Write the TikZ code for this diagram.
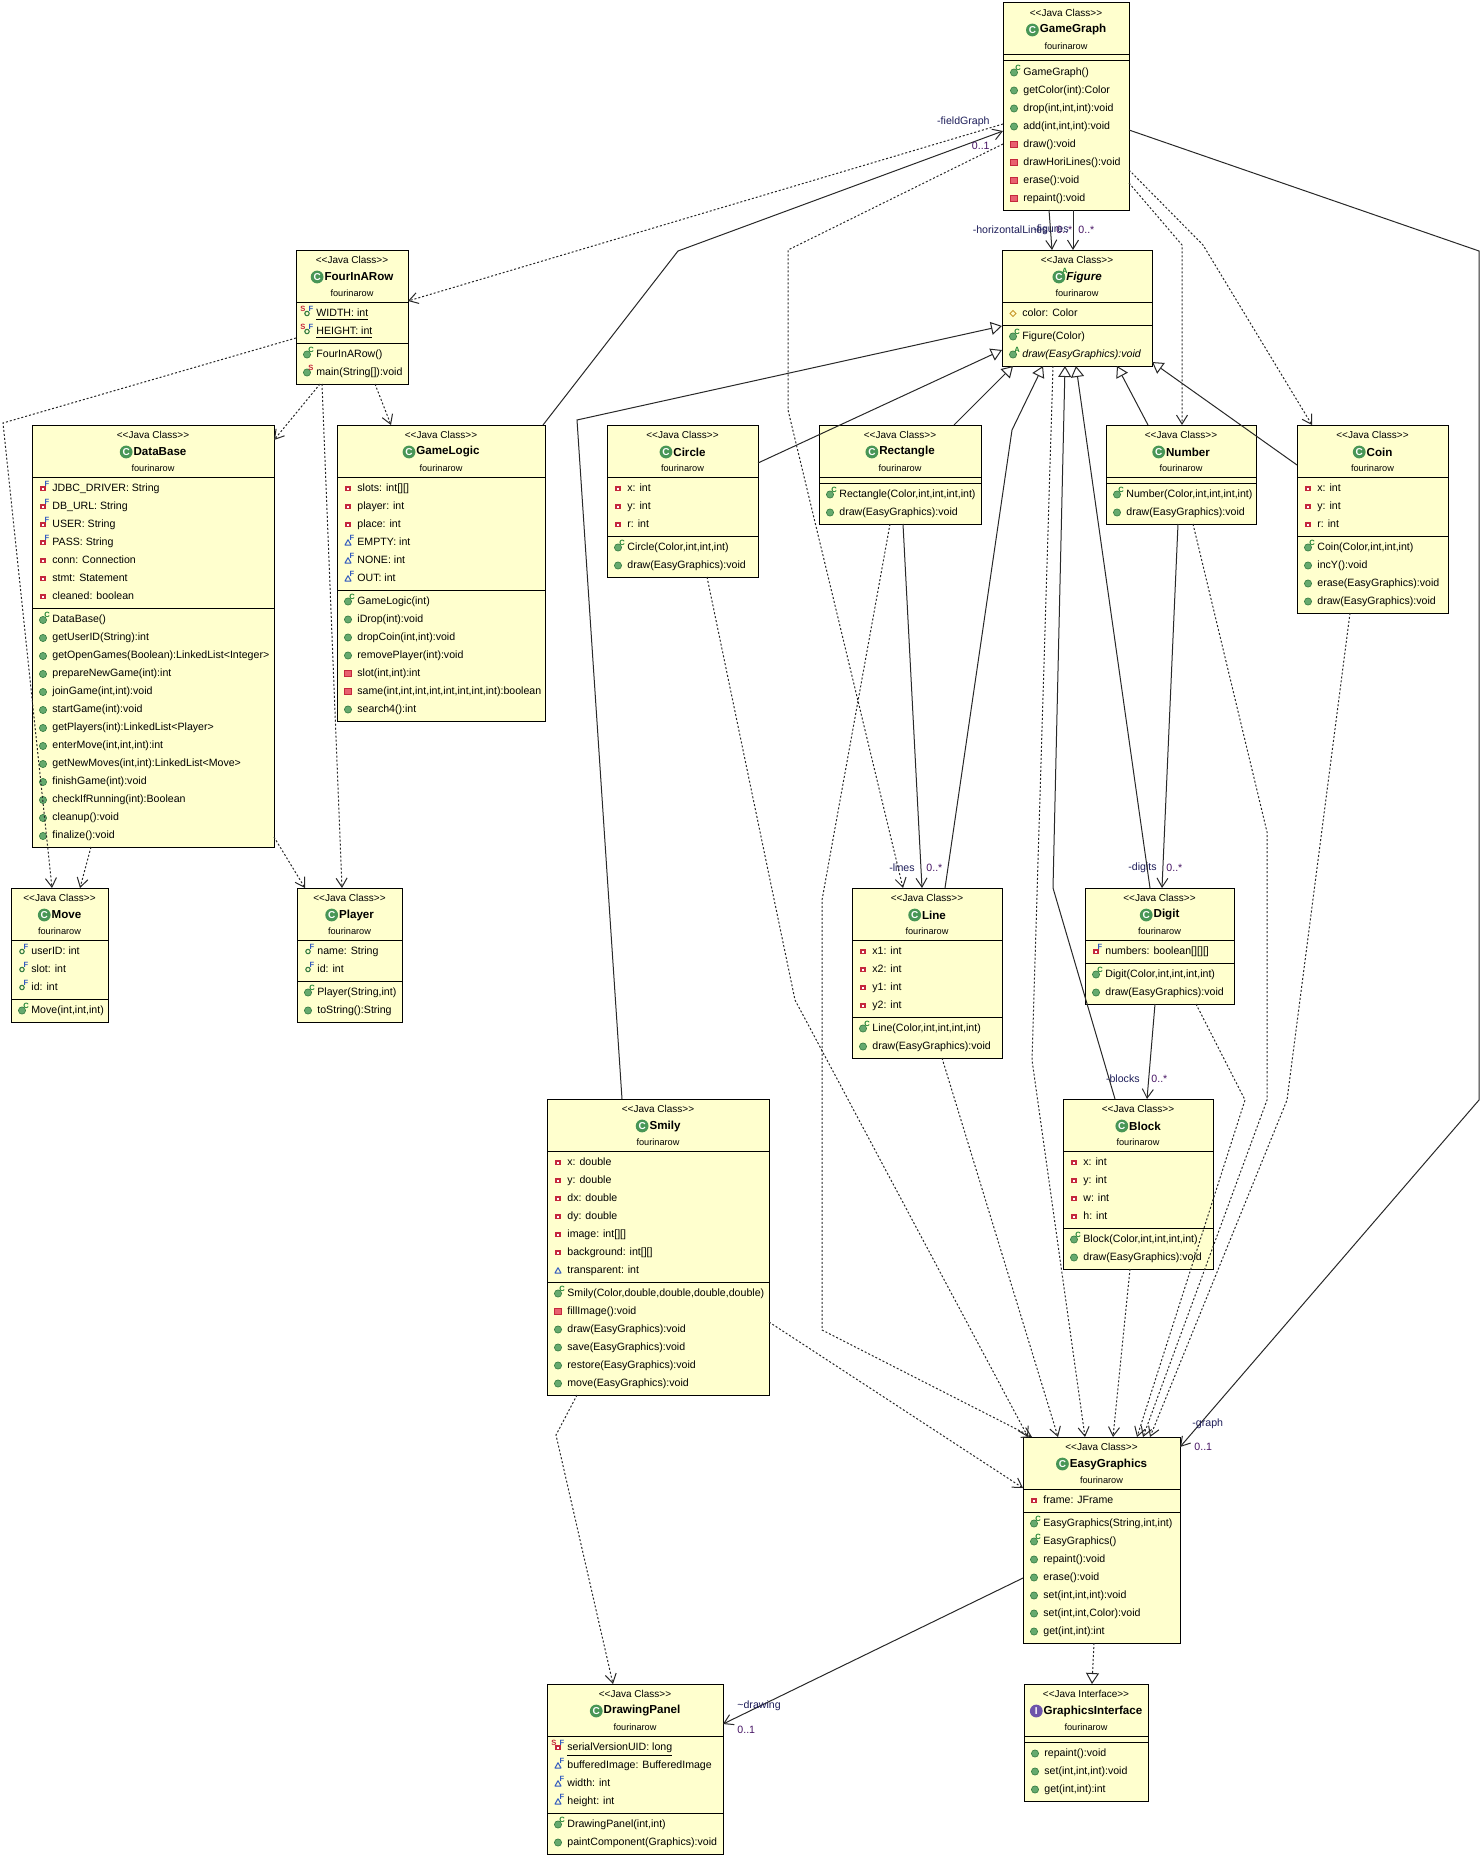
\documentclass[tikz,border=0pt]{standalone}
\usepackage{fontspec}
\setmainfont{Liberation Sans}
\usepackage{tikz}
\usetikzlibrary{calc}
\usetikzlibrary{arrows.meta}
\usepackage{color}
\definecolor{classfill}{RGB}{255, 255, 206}
\definecolor{ballgreen}{RGB}{102, 170, 110}
\definecolor{balledge}{RGB}{52, 122, 64}
\definecolor{ctorgreen}{RGB}{30, 130, 50}
\definecolor{classgreen}{RGB}{72, 150, 86}
\definecolor{privred}{RGB}{196, 40, 60}
\definecolor{privfill}{RGB}{232, 96, 110}
\definecolor{pkgblue}{RGB}{50, 90, 190}
\definecolor{protgold}{RGB}{200, 150, 40}
\definecolor{ifacepurple}{RGB}{110, 84, 170}
\definecolor{labelnavy}{RGB}{30, 30, 90}
\definecolor{multpurple}{RGB}{70, 20, 100}
\definecolor{connline}{RGB}{40, 40, 40}

\tikzset{
  classbox/.style={draw=black, fill=classfill, line width=0.5pt, anchor=north west, inner sep=0pt, outer sep=0pt},
  boxline/.style={draw=black, line width=0.5pt},
  stereo/.style={font=\fontsize{5}{6}\selectfont, inner sep=0pt},
  cname/.style={font=\fontsize{5.8}{7}\selectfont\bfseries, inner sep=0pt},
  pkgname/.style={font=\fontsize{4.6}{5}\selectfont, inner sep=0pt},
  member/.style={font=\fontsize{5.3}{6}\selectfont, anchor=west, inner sep=0pt, text height=3.9pt, text depth=1.1pt},
  suptext/.style={font=\fontsize{3.8}{4}\selectfont\bfseries, inner sep=0pt},
  classletter/.style={font=\fontsize{5}{5}\selectfont\bfseries, text=white, inner sep=0pt},
  role/.style={font=\fontsize{5.3}{6}\selectfont, text=labelnavy, inner sep=0pt},
  mult/.style={font=\fontsize{5.3}{6}\selectfont, text=multpurple, inner sep=0pt},
  dep/.style={draw=connline, line width=0.5pt, dash pattern=on 1pt off 1pt, -{Straight Barb[length=4.5pt, width=5.5pt]}},
  assoc/.style={draw=connline, line width=0.5pt, -{Straight Barb[length=4.5pt, width=5.5pt]}},
  gen/.style={draw=connline, line width=0.5pt, -{Triangle[open, fill=white, length=5.5pt, width=6.5pt]}},
  real/.style={gen, dash pattern=on 1pt off 1pt}
}

% member icons, #1 is the centre
\newcommand\icpub[1]{\coordinate (icn) at (#1);
  \filldraw[fill=ballgreen, draw=balledge, line width=0.3pt] (icn) circle (1.8pt);}
\newcommand\icctor[1]{\icpub{#1}\node[suptext, text=ctorgreen] (icl) at ([shift={(4,-5)}]icn) {C};}
\newcommand\icstat[1]{\icpub{#1}\node[suptext, text=privred] (icl) at ([shift={(4,-5)}]icn) {S};}
\newcommand\icabs[1]{\icpub{#1}\node[suptext, text=ctorgreen] (icl) at ([shift={(4,-5)}]icn) {A};}
\newcommand\icpriv[1]{\coordinate (icn) at (#1);
  \fill[privred] ([shift={(-2.6,-2.6)}]icn) rectangle ([shift={(2.6,2.6)}]icn);
  \fill[white] ([shift={(-1,-1)}]icn) rectangle ([shift={(1,1)}]icn);}
\newcommand\icprivF[1]{\icpriv{#1}\node[suptext, text=pkgblue] (icl) at ([shift={(4,-5)}]icn) {F};}
\newcommand\icprivm[1]{\coordinate (icn) at (#1);
  \filldraw[fill=privfill, draw=privred, line width=0.4pt] ([shift={(-3.3,-3.3)}]icn) rectangle ([shift={(3.3,3.3)}]icn);}
\newcommand\icpubF[1]{\coordinate (icn) at (#1);
  \draw[balledge, line width=0.55pt] (icn) circle (1.1pt);
  \node[suptext, text=pkgblue] (icl) at ([shift={(4,-5)}]icn) {F};}
\newcommand\icSoF[1]{\icpubF{#1}\node[suptext, text=privred] (icl) at ([shift={(-4,-5)}]icn) {S};}
\newcommand\icSpF[1]{\icprivF{#1}\node[suptext, text=privred] (icl) at ([shift={(-4,-5)}]icn) {S};}
\newcommand\icpkg[1]{\coordinate (icn) at (#1);
  \draw[pkgblue, line width=0.5pt, line join=round] ([shift={(-3,2.5)}]icn) -- ([shift={(3,2.5)}]icn) -- ([shift={(0,-2.8)}]icn) -- cycle;}
\newcommand\icpkgF[1]{\icpkg{#1}\node[suptext, text=pkgblue] (icl) at ([shift={(4,-5)}]icn) {F};}
\newcommand\icprot[1]{\coordinate (icn) at (#1);
  \draw[protgold, line width=0.5pt] ([shift={(-3,0)}]icn) -- ([shift={(0,-3)}]icn) -- ([shift={(3,0)}]icn) -- ([shift={(0,3)}]icn) -- cycle;}
\newcommand\icclass[1]{\coordinate (icn) at (#1);
  \fill[classgreen] (icn) circle (3.2pt);
  \node[classletter] (icl) at (icn) {C};}
\newcommand\icabsclass[1]{\icclass{#1}\node[suptext, text=ctorgreen] (icl) at ([shift={(6,-6)}]icn) {A};}
\newcommand\iciface[1]{\coordinate (icn) at (#1);
  \fill[ifacepurple] (icn) circle (3.2pt);
  \node[classletter] (icl) at (icn) {I};}

% class box: name, x, y, width, height (pixels)
\newcommand\umlclass[5]{\node[classbox, minimum width=#4*0.5pt, minimum height=#5*0.5pt] (#1) at (#2,#3) {};}
\newcommand\umlhead[4]{%
  \node[stereo] (#1-stereo) at ($(#1.north)+(0,10)$) {#4};
  \node[cname] (#1-name) at ($(#1.north)+(7,27)$) {#2};
  #3{$(#1-name.west)+(-7,0)$}
  \node[pkgname] (#1-pkg) at ($(#1.north)+(0,43)$) {fourinarow};}
\newcommand\umlline[2]{\draw[boxline] ($(#1.north west)+(0,#2)$) -- ($(#1.north east)+(0,#2)$);}
\newcommand\umlmembers[4]{%
  \foreach \ic/\tx [count=\row from 0] in {#4}{
    \pgfmathsetmacro\yy{#2+#3*\row}
    \pgfmathtruncatemacro\yi{#2+#3*\row}
    \ic{$(#1.north west)+(11,\yy)$}
    \node[member] (#1-row\yi) at ($(#1.north west)+(20,\yy)$) {\tx};
  }}

\begin{document}
\begin{tikzpicture}[x=0.5pt, y=-0.5pt]
\fill[white] (0,0) rectangle (1480,1857);
\useasboundingbox (0,0) rectangle (1480,1857);

% GameGraph
\umlclass{gamegraph}{1003}{3}{126}{207}
\umlhead{gamegraph}{GameGraph}{\icclass}{<{}<Java Class>{}>}
\umlline{gamegraph}{52}
\umlline{gamegraph}{58}
\umlmembers{gamegraph}{69.5}{18}{\icctor/{GameGraph()}, \icpub/{getColor(int):Color}, \icpub/{drop(int,int,int):void}, \icpub/{add(int,int,int):void}, \icprivm/{draw():void}, \icprivm/{drawHoriLines():void}, \icprivm/{erase():void}, \icprivm/{repaint():void}}

% FourInARow
\umlclass{fourinarow}{296}{250}{112}{134}
\umlhead{fourinarow}{FourInARow}{\icclass}{<{}<Java Class>{}>}
\umlline{fourinarow}{52}
\umlline{fourinarow}{93}
\umlmembers{fourinarow}{63.5}{18}{\icSoF/{\underline{WIDTH: int}}, \icSoF/{\underline{HEIGHT: int}}}
\umlmembers{fourinarow}{104.5}{18}{\icctor/{FourInARow()}, \icstat/{main(String[]):void}}

% Figure
\umlclass{figure}{1002}{250}{150}{116}
\umlhead{figure}{\itshape Figure}{\icabsclass}{<{}<Java Class>{}>}
\umlline{figure}{52}
\umlline{figure}{75}
\umlmembers{figure}{63.5}{18}{\icprot/{color: Color}}
\umlmembers{figure}{86.5}{18}{\icctor/{Figure(Color)}, \icabs/{\itshape draw(EasyGraphics):void}}

% DataBase
\umlclass{database}{32}{425}{242}{422}
\umlhead{database}{DataBase}{\icclass}{<{}<Java Class>{}>}
\umlline{database}{52}
\umlline{database}{183}
\umlmembers{database}{63.5}{18}{\icprivF/{JDBC\_DRIVER: String}, \icprivF/{DB\_URL: String}, \icprivF/{USER: String}, \icprivF/{PASS: String}, \icpriv/{conn: Connection}, \icpriv/{stmt: Statement}, \icpriv/{cleaned: boolean}}
\umlmembers{database}{195}{18}{\icctor/{DataBase()}, \icpub/{getUserID(String):int}, \icpub/{getOpenGames(Boolean):LinkedList<Integer>}, \icpub/{prepareNewGame(int):int}, \icpub/{joinGame(int,int):void}, \icpub/{startGame(int):void}, \icpub/{getPlayers(int):LinkedList<Player>}, \icpub/{enterMove(int,int,int):int}, \icpub/{getNewMoves(int,int):LinkedList<Move>}, \icpub/{finishGame(int):void}, \icpub/{checkIfRunning(int):Boolean}, \icpub/{cleanup():void}, \icpub/{finalize():void}}

% GameLogic
\umlclass{gamelogic}{337}{425}{208}{296}
\umlhead{gamelogic}{GameLogic}{\icclass}{<{}<Java Class>{}>}
\umlline{gamelogic}{52}
\umlline{gamelogic}{165}
\umlmembers{gamelogic}{63.5}{18}{\icpriv/{slots: int[][]}, \icpriv/{player: int}, \icpriv/{place: int}, \icpkgF/{EMPTY: int}, \icpkgF/{NONE: int}, \icpkgF/{OUT: int}}
\umlmembers{gamelogic}{176.5}{18}{\icctor/{GameLogic(int)}, \icpub/{iDrop(int):void}, \icpub/{dropCoin(int,int):void}, \icpub/{removePlayer(int):void}, \icprivm/{slot(int,int):int}, \icprivm/{same(int,int,int,int,int,int,int,int):boolean}, \icpub/{search4():int}}

% Circle
\umlclass{circle}{607}{425}{151}{152}
\umlhead{circle}{Circle}{\icclass}{<{}<Java Class>{}>}
\umlline{circle}{52}
\umlline{circle}{111}
\umlmembers{circle}{63.5}{18}{\icpriv/{x: int}, \icpriv/{y: int}, \icpriv/{r: int}}
\umlmembers{circle}{122.5}{18}{\icctor/{Circle(Color,int,int,int)}, \icpub/{draw(EasyGraphics):void}}

% Rectangle
\umlclass{rectangle}{819}{425}{162}{99}
\umlhead{rectangle}{Rectangle}{\icclass}{<{}<Java Class>{}>}
\umlline{rectangle}{52}
\umlline{rectangle}{58}
\umlmembers{rectangle}{69.5}{18}{\icctor/{Rectangle(Color,int,int,int,int)}, \icpub/{draw(EasyGraphics):void}}

% Number
\umlclass{number}{1106}{425}{150}{99}
\umlhead{number}{Number}{\icclass}{<{}<Java Class>{}>}
\umlline{number}{52}
\umlline{number}{58}
\umlmembers{number}{69.5}{18}{\icctor/{Number(Color,int,int,int,int)}, \icpub/{draw(EasyGraphics):void}}

% Coin
\umlclass{coin}{1297}{425}{151}{188}
\umlhead{coin}{Coin}{\icclass}{<{}<Java Class>{}>}
\umlline{coin}{52}
\umlline{coin}{111}
\umlmembers{coin}{63.5}{18}{\icpriv/{x: int}, \icpriv/{y: int}, \icpriv/{r: int}}
\umlmembers{coin}{122.5}{18}{\icctor/{Coin(Color,int,int,int)}, \icpub/{incY():void}, \icpub/{erase(EasyGraphics):void}, \icpub/{draw(EasyGraphics):void}}

% Move
\umlclass{move}{11}{888}{97}{134}
\umlhead{move}{Move}{\icclass}{<{}<Java Class>{}>}
\umlline{move}{52}
\umlline{move}{111}
\umlmembers{move}{63.5}{18}{\icpubF/{userID: int}, \icpubF/{slot: int}, \icpubF/{id: int}}
\umlmembers{move}{122.5}{18}{\icctor/{Move(int,int,int)}}

% Player
\umlclass{player}{297}{888}{105}{134}
\umlhead{player}{Player}{\icclass}{<{}<Java Class>{}>}
\umlline{player}{52}
\umlline{player}{93}
\umlmembers{player}{63.5}{18}{\icpubF/{name: String}, \icpubF/{id: int}}
\umlmembers{player}{104.5}{18}{\icctor/{Player(String,int)}, \icpub/{toString():String}}

% Line
\umlclass{line}{852}{888}{150}{170}
\umlhead{line}{Line}{\icclass}{<{}<Java Class>{}>}
\umlline{line}{52}
\umlline{line}{129}
\umlmembers{line}{63.5}{18}{\icpriv/{x1: int}, \icpriv/{x2: int}, \icpriv/{y1: int}, \icpriv/{y2: int}}
\umlmembers{line}{140.5}{18}{\icctor/{Line(Color,int,int,int,int)}, \icpub/{draw(EasyGraphics):void}}

% Digit
\umlclass{digit}{1085}{888}{149}{116}
\umlhead{digit}{Digit}{\icclass}{<{}<Java Class>{}>}
\umlline{digit}{52}
\umlline{digit}{75}
\umlmembers{digit}{63.5}{18}{\icprivF/{numbers: boolean[][][]}}
\umlmembers{digit}{86.5}{18}{\icctor/{Digit(Color,int,int,int,int)}, \icpub/{draw(EasyGraphics):void}}

% Block
\umlclass{block}{1063}{1099}{150}{170}
\umlhead{block}{Block}{\icclass}{<{}<Java Class>{}>}
\umlline{block}{52}
\umlline{block}{129}
\umlmembers{block}{63.5}{18}{\icpriv/{x: int}, \icpriv/{y: int}, \icpriv/{w: int}, \icpriv/{h: int}}
\umlmembers{block}{140.5}{18}{\icctor/{Block(Color,int,int,int,int)}, \icpub/{draw(EasyGraphics):void}}

% Smily
\umlclass{smily}{547}{1099}{222}{296}
\umlhead{smily}{Smily}{\icclass}{<{}<Java Class>{}>}
\umlline{smily}{52}
\umlline{smily}{183}
\umlmembers{smily}{63.5}{18}{\icpriv/{x: double}, \icpriv/{y: double}, \icpriv/{dx: double}, \icpriv/{dy: double}, \icpriv/{image: int[][]}, \icpriv/{background: int[][]}, \icpkg/{transparent: int}}
\umlmembers{smily}{194.5}{18}{\icctor/{Smily(Color,double,double,double,double)}, \icprivm/{fillImage():void}, \icpub/{draw(EasyGraphics):void}, \icpub/{save(EasyGraphics):void}, \icpub/{restore(EasyGraphics):void}, \icpub/{move(EasyGraphics):void}}

% EasyGraphics
\umlclass{easygraphics}{1023}{1437}{157}{206}
\umlhead{easygraphics}{EasyGraphics}{\icclass}{<{}<Java Class>{}>}
\umlline{easygraphics}{52}
\umlline{easygraphics}{75}
\umlmembers{easygraphics}{63.5}{18}{\icpriv/{frame: JFrame}}
\umlmembers{easygraphics}{86.5}{18}{\icctor/{EasyGraphics(String,int,int)}, \icctor/{EasyGraphics()}, \icpub/{repaint():void}, \icpub/{erase():void}, \icpub/{set(int,int,int):void}, \icpub/{set(int,int,Color):void}, \icpub/{get(int,int):int}}

% DrawingPanel
\umlclass{drawingpanel}{547}{1684}{176}{170}
\umlhead{drawingpanel}{DrawingPanel}{\icclass}{<{}<Java Class>{}>}
\umlline{drawingpanel}{52}
\umlline{drawingpanel}{129}
\umlmembers{drawingpanel}{63.5}{18}{\icSpF/{\underline{serialVersionUID: long}}, \icpkgF/{bufferedImage: BufferedImage}, \icpkgF/{width: int}, \icpkgF/{height: int}}
\umlmembers{drawingpanel}{140.5}{18}{\icctor/{DrawingPanel(int,int)}, \icpub/{paintComponent(Graphics):void}}

% GraphicsInterface
\umlclass{graphicsif}{1024}{1684}{124}{117}
\umlhead{graphicsif}{GraphicsInterface}{\iciface}{<{}<Java Interface>{}>}
\umlline{graphicsif}{52}
\umlline{graphicsif}{58}
\umlmembers{graphicsif}{69.5}{18}{\icpub/{repaint():void}, \icpub/{set(int,int,int):void}, \icpub/{get(int,int):int}}

% associations
\draw[assoc] ($(gamelogic.north east)+(-2,0)$) -- (678,251) -- ($(gamegraph.north west)+(0,128)$);
\node[role, anchor=east] (lbl-fieldgraph) at ($(gamegraph.north west)+(-13,119)$) {-fieldGraph};
\node[mult, anchor=east] (lbl-fieldgraph-m) at ($(gamegraph.north west)+(-13,143)$) {0..1};
\draw[assoc] ($(gamegraph.south west)+(46,0)$) -- ($(figure.north west)+(50,0)$);
\node[role, anchor=east] (lbl-hlines) at ($(figure.north west)+(46,-20)$) {-horizontalLines};
\node[mult, anchor=west] (lbl-hlines-m) at ($(figure.north west)+(54,-20)$) {0..*};
\draw[assoc] ($(gamegraph.south west)+(70,0)$) -- ($(figure.north west)+(71,0)$);
\node[role, anchor=east] (lbl-figures) at ($(figure.north west)+(67,-20)$) {-figures};
\node[mult, anchor=west] (lbl-figures-m) at ($(figure.north west)+(76,-20)$) {0..*};
\draw[assoc] ($(gamegraph.north east)+(0,127)$) -- (1479,251) -- (1479,1100) -- ($(easygraphics.north east)+(0,10)$);
\node[role, anchor=west] (lbl-graph) at ($(easygraphics.north east)+(12,-13)$) {-graph};
\node[mult, anchor=west] (lbl-graph-m) at ($(easygraphics.north east)+(14,10)$) {0..1};
\draw[assoc] ($(rectangle.south west)+(84,0)$) -- ($(line.north west)+(70,0)$);
\node[role, anchor=east] (lbl-lines) at ($(line.north west)+(63,-20)$) {-lines};
\node[mult, anchor=west] (lbl-lines-m) at ($(line.north west)+(74,-20)$) {0..*};
\draw[assoc] ($(number.south west)+(72,0)$) -- ($(digit.north west)+(77,0)$);
\node[role, anchor=east] (lbl-digits) at ($(digit.north west)+(72,-20)$) {-digits};
\node[mult, anchor=west] (lbl-digits-m) at ($(digit.north west)+(81,-20)$) {0..*};
\draw[assoc] ($(digit.south west)+(70,0)$) -- ($(block.north west)+(84,0)$);
\node[role, anchor=east] (lbl-blocks) at ($(block.north west)+(77,-20)$) {-blocks};
\node[mult, anchor=west] (lbl-blocks-m) at ($(block.north west)+(88,-20)$) {0..*};
\draw[assoc] ($(easygraphics.north west)+(0,141)$) -- ($(drawingpanel.north east)+(0,40)$);
\node[role, anchor=west] (lbl-drawing) at ($(drawingpanel.north east)+(14,22)$) {\textasciitilde drawing};
\node[mult, anchor=west] (lbl-drawing-m) at ($(drawingpanel.north east)+(14,46)$) {0..1};

% generalizations
\draw[gen] ($(circle.north east)+(0,38)$) -- ($(figure.north west)+(0,100)$);
\draw[gen] ($(smily.north west)+(75,0)$) -- (577,420) -- ($(figure.north west)+(0,76)$);
\draw[gen] ($(rectangle.north east)+(-27,0)$) -- ($(figure.south west)+(11,0)$);
\draw[gen] ($(line.north west)+(93,0)$) -- (1012,430) -- ($(figure.south west)+(41,0)$);
\draw[gen] ($(block.north west)+(52,0)$) -- (1053,888) -- ($(figure.south west)+(63,0)$);
\draw[gen] ($(digit.north west)+(65,0)$) -- ($(figure.south west)+(74,0)$);
\draw[gen] ($(number.north west)+(42,0)$) -- ($(figure.south west)+(115,0)$);
\draw[gen] ($(coin.north west)+(0,40)$) -- ($(figure.south east)+(0,-4)$);
\draw[real] ($(easygraphics.south west)+(71,0)$) -- ($(graphicsif.north west)+(68,0)$);

% dependencies
\draw[dep] ($(gamegraph.north west)+(0,121)$) -- ($(fourinarow.north east)+(0,51)$);
\draw[dep] ($(gamegraph.north west)+(0,141)$) -- (788,250) -- (788,410) -- ($(line.north west)+(51,0)$);
\draw[dep] ($(gamegraph.north east)+(0,180)$) -- (1182,245) -- ($(number.north west)+(76,0)$);
\draw[dep] ($(gamegraph.north east)+(0,167)$) -- (1203,245) -- ($(coin.north west)+(15,0)$);
\draw[dep] ($(circle.south west)+(100,0)$) -- (795,1000) -- ($(easygraphics.north west)+(5,0)$);
\draw[dep] ($(rectangle.south west)+(71,0)$) -- (822,900) -- (822,1330) -- ($(easygraphics.north west)+(9,0)$);
\draw[dep] ($(line.south west)+(90,0)$) -- ($(easygraphics.north west)+(35,0)$);
\draw[dep] ($(figure.south west)+(51,0)$) -- (1032,1060) -- ($(easygraphics.north west)+(62,0)$);
\draw[dep] ($(block.south west)+(67,0)$) -- ($(easygraphics.north west)+(90,0)$);
\draw[dep] ($(digit.south east)+(-38,0)$) -- (1245,1100) -- ($(easygraphics.north west)+(114,0)$);
\draw[dep] ($(number.south west)+(87,0)$) -- (1267,832) -- (1267,1100) -- ($(easygraphics.north west)+(120,0)$);
\draw[dep] ($(coin.south west)+(53,0)$) -- (1287,1100) -- ($(easygraphics.north west)+(127,0)$);
\draw[dep] ($(smily.north east)+(0,223)$) -- ($(easygraphics.north west)+(0,51)$);
\draw[dep] ($(smily.south west)+(30,0)$) -- (556,1435) -- ($(drawingpanel.north west)+(66,0)$);
\draw[dep] ($(fourinarow.south west)+(24,0)$) -- ($(database.north east)+(0,15)$);
\draw[dep] ($(fourinarow.south west)+(79,0)$) -- ($(gamelogic.north west)+(54,0)$);
\draw[dep] ($(fourinarow.south west)+(26,0)$) -- ($(player.north west)+(45,0)$);
\draw[dep] ($(database.south east)+(0,-10)$) -- ($(player.north west)+(8,0)$);
\draw[dep] ($(database.south west)+(59,0)$) -- ($(move.north west)+(69,0)$);
\draw[dep] ($(fourinarow.north west)+(0,88)$) -- (3,423) -- ($(move.north west)+(41,0)$);
\end{tikzpicture}
\end{document}
